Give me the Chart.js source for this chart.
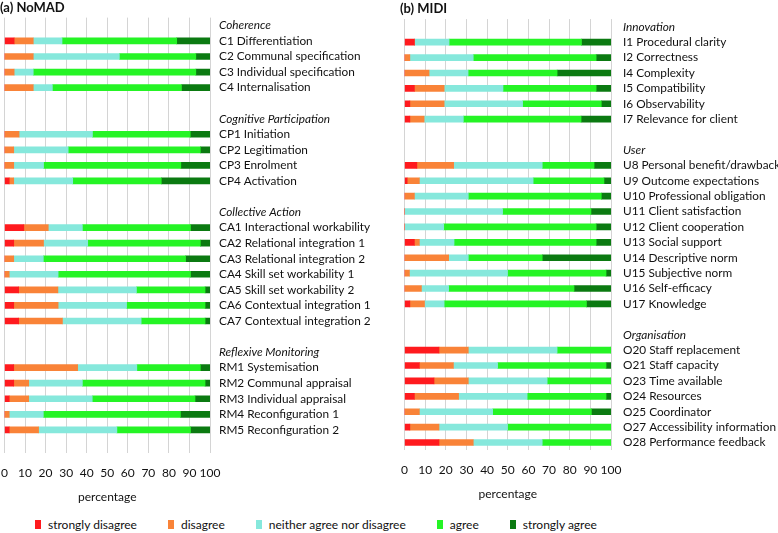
<!DOCTYPE html>
<html>
<head>
<meta charset="utf-8">
<script src="https://cdn.jsdelivr.net/npm/chart.js@4"></script>
<style>
    body { margin: 0; background: #ffffff; font-family: Lato, sans-serif; }
    #wrap { position: relative; width: 778px; height: 533px; overflow: hidden; }
    #nomadBox { position: absolute; left: 0; top: 0; width: 393px; height: 508px; }
    #midiBox { position: absolute; left: 400px; top: 0; width: 378px; height: 505px; }
    #legend { position: absolute; left: 35px; top: 517px; display: flex; align-items: center; font-size: 12px; color: #111; }
    .item { display: flex; align-items: center; margin-right: 31px; }
    .box { width: 6px; height: 9px; margin-right: 7px; }
</style>
</head>
<body>
<div id="wrap">
    <div id="nomadBox"><canvas id="nomadChart"></canvas></div>
    <div id="midiBox"><canvas id="midiChart"></canvas></div>
    <div id="legend"></div>
</div>
<script>
// Answer categories and their colours
const answerLabels = ['strongly disagree', 'disagree', 'neither agree nor disagree', 'agree', 'strongly agree'];
const answerColors = ['#ff1a1e', '#f98338', '#86e8dc', '#25f425', '#0b7a11'];

// Percentage axis
const percentTicks = [0, 10, 20, 30, 40, 50, 60, 70, 80, 90, 100];

// (a) NoMAD - rows, group headings and blank rows included
const nomadRows = [
    'Coherence', 'C1 Differentiation', 'C2 Communal specification', 'C3 Individual specification', 'C4 Internalisation', '',
    'Cognitive Participation', 'CP1 Initiation', 'CP2 Legitimation', 'CP3 Enrolment', 'CP4 Activation', '',
    'Collective Action', 'CA1 Interactional workability', 'CA2 Relational integration 1', 'CA3 Relational integration 2',
    'CA4 Skill set workability 1', 'CA5 Skill set workability 2', 'CA6 Contextual integration 1', 'CA7 Contextual integration 2', '',
    'Reflexive Monitoring', 'RM1 Systemisation', 'RM2 Communal appraisal', 'RM3 Individual appraisal',
    'RM4 Reconfiguration 1', 'RM5 Reconfiguration 2', ''
];
const nomadHeaders = ['Coherence', 'Cognitive Participation', 'Collective Action', 'Reflexive Monitoring'];
const nomadStronglyDisagree = [null, 4.7, 0, 0, 0, null, null, 0, 0, 0, 2.3, null, null, 9.4, 4.5, 0, 0, 6.9, 4.5, 6.9, null, null, 4.5, 4.5, 2.3, 0, 2.3, null];
const nomadDisagree = [null, 9.3, 14.0, 4.7, 14.0, null, null, 7.1, 4.5, 4.5, 2.2, null, null, 11.9, 14.5, 4.5, 2.3, 19.1, 21.6, 21.3, null, null, 31.1, 7.3, 9.5, 2.3, 14.3, null];
const nomadNeither = [null, 14.0, 41.9, 9.3, 9.3, null, null, 35.7, 26.5, 14.5, 28.7, null, null, 16.6, 21.5, 14.4, 23.8, 38.2, 33.3, 38.3, null, null, 28.8, 26.1, 30.9, 16.6, 38.1, null];
const nomadAgree = [null, 55.8, 37.2, 79.1, 62.8, null, null, 47.6, 64.3, 66.8, 43.1, null, null, 52.6, 54.8, 69.2, 64.4, 33.4, 38.2, 31.1, null, null, 30.9, 59.7, 50.0, 66.7, 35.8, null];
const nomadStronglyAgree = [null, 16.2, 6.9, 6.9, 13.9, null, null, 9.6, 4.7, 14.2, 23.7, null, null, 9.5, 4.7, 11.9, 9.5, 2.4, 2.4, 2.4, null, null, 4.7, 2.4, 7.3, 14.4, 9.5, null];

// (b) MIDI
const midiRows = [
    'Innovation', 'I1 Procedural clarity', 'I2 Correctness', 'I4 Complexity', 'I5 Compatibility', 'I6 Observability', 'I7 Relevance for client', '',
    'User', 'U8 Personal benefit/drawback', 'U9 Outcome expectations', 'U10 Professional obligation', 'U11 Client satisfaction',
    'U12 Client cooperation', 'U13 Social support', 'U14 Descriptive norm', 'U15 Subjective norm', 'U16 Self-efficacy', 'U17 Knowledge', '',
    'Organisation', 'O20 Staff replacement', 'O21 Staff capacity', 'O23 Time available', 'O24 Resources', 'O25 Coordinator',
    'O27 Accessibility information', 'O28 Performance feedback'
];
const midiHeaders = ['Innovation', 'User', 'Organisation'];
const midiStronglyDisagree = [null, 4.8, 0, 0, 4.8, 2.6, 2.6, null, null, 6.0, 1.3, 0, 0, 0, 4.8, 0, 0, 0, 2.6, null, null, 16.7, 7.2, 14.3, 4.8, 0, 2.6, 16.7];
const midiDisagree = [null, 0, 2.6, 11.9, 14.4, 16.6, 6.9, null, null, 17.8, 5.9, 4.8, 0, 0, 2.4, 21.4, 2.4, 8.2, 7.1, null, null, 14.2, 16.5, 16.6, 21.4, 7.2, 14.1, 16.6];
const midiNeither = [null, 16.8, 30.7, 18.9, 28.5, 38.0, 19.0, null, null, 42.9, 55.1, 26.1, 47.5, 19.0, 16.8, 9.5, 47.5, 13.2, 9.5, null, null, 43.0, 21.4, 38.2, 33.2, 35.5, 33.2, 33.4];
const midiAgree = [null, 64.1, 59.5, 43.1, 45.1, 38.1, 57.0, null, null, 25.1, 34.3, 64.4, 42.8, 73.8, 68.8, 35.8, 47.7, 60.7, 68.9, null, null, 26.1, 52.5, 30.9, 38.2, 47.8, 50.1, 33.3];
const midiStronglyAgree = [null, 14.3, 7.2, 26.1, 7.2, 4.7, 14.5, null, null, 8.2, 3.4, 4.7, 9.7, 7.2, 7.2, 33.3, 2.4, 17.9, 11.9, null, null, 0, 2.4, 0, 2.4, 9.5, 0, 0];

const baseFont = { family: 'Lato', size: 12 };

// Build one stacked horizontal bar panel
function makePanel(canvasId, title, rows, headers, seriesValues, axisWidth, labelGap) {
    const ctx = document.getElementById(canvasId).getContext('2d');
    const datasets = seriesValues.map(function(values, i) {
        return {
            label: answerLabels[i],
            data: values,
            backgroundColor: answerColors[i],
            barThickness: 6
        };
    });

    return new Chart(ctx, {
        type: 'bar',
        data: { labels: rows, datasets: datasets },
        options: {
            indexAxis: 'y',
            responsive: true,
            maintainAspectRatio: false,
            animation: false,
            layout: { padding: 0 },
            plugins: {
                legend: { display: false },
                tooltip: { enabled: false },
                title: {
                    display: true,
                    text: title,
                    align: 'start',
                    color: '#111',
                    font: { family: 'Lato', size: 13, weight: 'bold' },
                    padding: { top: 0, bottom: 2 }
                }
            },
            scales: {
                x: {
                    stacked: true,
                    min: 0,
                    max: 100,
                    afterBuildTicks: function(scale) {
                        scale.ticks = percentTicks.map(function(v) { return { value: v }; });
                    },
                    // invisible tick marks just push the labels down
                    grid: { color: '#d4d4d4', lineWidth: 1, drawTicks: true, tickLength: 12, tickColor: 'rgba(0,0,0,0)' },
                    border: { display: false },
                    ticks: { color: '#111', font: baseFont, padding: 1, maxRotation: 0, autoSkip: false },
                    title: {
                        display: true,
                        text: 'percentage',
                        color: '#111',
                        font: baseFont,
                        padding: { top: 8, bottom: 4 }
                    }
                },
                y: {
                    stacked: true,
                    position: 'right',
                    grid: { display: false, drawTicks: false },
                    border: { display: false },
                    afterFit: function(scale) { scale.width = axisWidth; },
                    ticks: {
                        autoSkip: false,
                        padding: labelGap,
                        color: '#111',
                        font: function(c) {
                            const label = c.tick ? c.tick.label : '';
                            return { family: 'Lato', size: 11.8, style: headers.includes(label) ? 'italic' : 'normal' };
                        }
                    }
                }
            }
        }
    });
}

makePanel('nomadChart', '(a) NoMAD', nomadRows, nomadHeaders,
    [nomadStronglyDisagree, nomadDisagree, nomadNeither, nomadAgree, nomadStronglyAgree], 183, 9);
makePanel('midiChart', '(b) MIDI', midiRows, midiHeaders,
    [midiStronglyDisagree, midiDisagree, midiNeither, midiAgree, midiStronglyAgree], 167, 12);

// Shared legend under both panels
const legend = document.getElementById('legend');
answerLabels.forEach(function(label, i) {
    const item = document.createElement('div');
    item.className = 'item';
    item.innerHTML = '<span class="box" style="background:' + answerColors[i] + '"></span><span>' + label + '</span>';
    legend.appendChild(item);
});
</script>
</body>
</html>
